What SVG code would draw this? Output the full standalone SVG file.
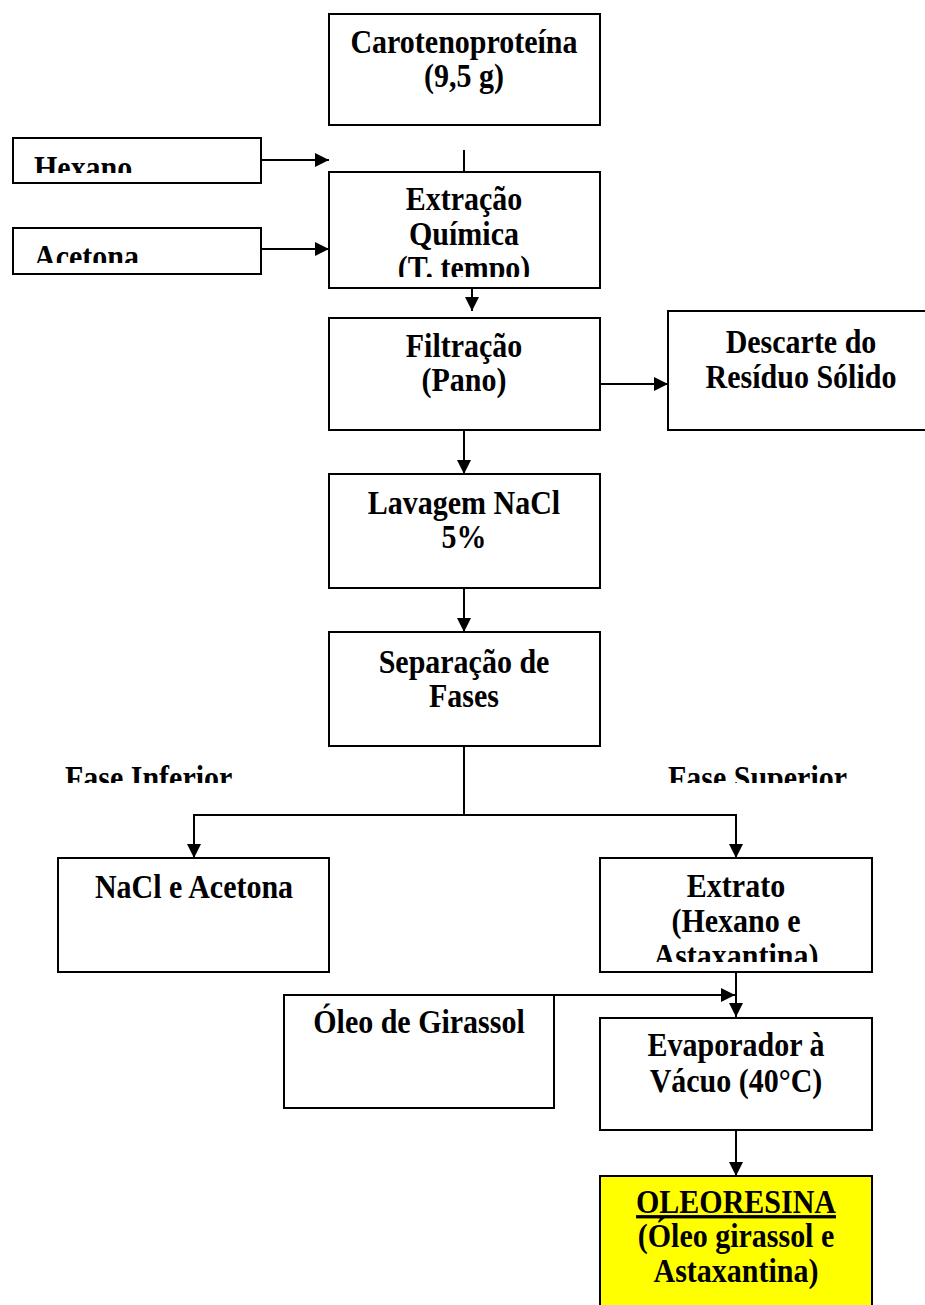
<svg xmlns="http://www.w3.org/2000/svg" width="925" height="1305" viewBox="0 0 925 1305">
<style>
.box{fill:#fff;stroke:#000;stroke-width:2}
.hl{fill:#ffff00;stroke:#000;stroke-width:2}
.t{font-family:"Liberation Serif","Times New Roman",serif;font-weight:bold;font-size:30px;fill:#000}
.c{text-anchor:middle}
.ln{fill:none;stroke:#000;stroke-width:2}
</style>
<defs>
<marker id="ah" markerUnits="userSpaceOnUse" markerWidth="14" markerHeight="14" viewBox="0 0 14 14" refX="14" refY="7" orient="auto">
<path d="M0,0 L14,7 L0,14 Z" fill="#000"/>
</marker>
<clipPath id="cHex" clipPathUnits="userSpaceOnUse"><rect x="14" y="139" width="246" height="34"/></clipPath>
<clipPath id="cAce" clipPathUnits="userSpaceOnUse"><rect x="14" y="229" width="246" height="34"/></clipPath>
<clipPath id="cExt" clipPathUnits="userSpaceOnUse"><rect x="330" y="173" width="269" height="104"/></clipPath>
<clipPath id="cFI" clipPathUnits="userSpaceOnUse"><rect x="40" y="755" width="260" height="28"/></clipPath>
<clipPath id="cFS" clipPathUnits="userSpaceOnUse"><rect x="640" y="755" width="260" height="28"/></clipPath>
<clipPath id="cExtr" clipPathUnits="userSpaceOnUse"><rect x="601" y="859" width="270" height="103"/></clipPath>
</defs>

<g id="connectors">
<line class="ln" x1="464" y1="150" x2="464" y2="172"/>
<line class="ln" x1="261" y1="160" x2="329" y2="160" marker-end="url(#ah)"/>
<line class="ln" x1="261" y1="249" x2="329" y2="249" marker-end="url(#ah)"/>
<line class="ln" x1="472" y1="288" x2="472" y2="311" marker-end="url(#ah)"/>
<line class="ln" x1="600" y1="384" x2="668" y2="384" marker-end="url(#ah)"/>
<line class="ln" x1="464" y1="430" x2="464" y2="474" marker-end="url(#ah)"/>
<line class="ln" x1="464" y1="588" x2="464" y2="632" marker-end="url(#ah)"/>
<polyline class="ln" points="464,746 464,815"/>
<polyline class="ln" points="194,858 194,815 736,815 736,858"/>
<line class="ln" x1="194" y1="830" x2="194" y2="858" marker-end="url(#ah)"/>
<line class="ln" x1="736" y1="830" x2="736" y2="858" marker-end="url(#ah)"/>
<line class="ln" x1="736" y1="972" x2="736" y2="1017" marker-end="url(#ah)"/>
<line class="ln" x1="554" y1="995" x2="735" y2="995" marker-end="url(#ah)"/>
<line class="ln" x1="736" y1="1130" x2="736" y2="1176" marker-end="url(#ah)"/>
</g>

<g id="carotenoproteina">
<rect class="box" x="329" y="14" width="271" height="111"/>
<text class="t c" transform="translate(464 53) scale(1 1.1)"><tspan x="0" y="0">Carotenoproteína</tspan><tspan x="0" y="31">(9,5 g)</tspan></text>
</g>

<g id="hexano">
<rect class="box" x="13" y="138" width="248" height="45"/>
<g clip-path="url(#cHex)"><text class="t" transform="translate(34 179) scale(1 1.1)">Hexano</text></g>
</g>

<g id="acetona">
<rect class="box" x="13" y="228" width="248" height="46"/>
<g clip-path="url(#cAce)"><text class="t" transform="translate(34 268) scale(1 1.1)">Acetona</text></g>
</g>

<g id="extracao">
<rect class="box" x="329" y="172" width="271" height="116"/>
<g clip-path="url(#cExt)"><text class="t c" transform="translate(464 210) scale(1 1.1)"><tspan x="0" y="0">Extração</tspan><tspan x="0" y="31.5">Química</tspan><tspan x="0" y="63">(T. tempo)</tspan></text></g>
</g>

<g id="filtracao">
<rect class="box" x="329" y="318" width="271" height="112"/>
<text class="t c" transform="translate(464 357) scale(1 1.1)"><tspan x="0" y="0">Filtração</tspan><tspan x="0" y="31">(Pano)</tspan></text>
</g>

<g id="descarte">
<rect class="box" x="668" y="311" width="265" height="119"/>
<text class="t c" transform="translate(801 353) scale(1 1.1)"><tspan x="0" y="0">Descarte do</tspan><tspan x="0" y="31.5">Resíduo Sólido</tspan></text>
</g>

<g id="lavagem">
<rect class="box" x="329" y="474" width="271" height="114"/>
<text class="t c" transform="translate(464 514) scale(1 1.1)"><tspan x="0" y="0">Lavagem NaCl</tspan><tspan x="0" y="31">5%</tspan></text>
</g>

<g id="separacao">
<rect class="box" x="329" y="632" width="271" height="114"/>
<text class="t c" transform="translate(464 673) scale(1 1.1)"><tspan x="0" y="0">Separação de</tspan><tspan x="0" y="31">Fases</tspan></text>
</g>

<g id="label-fase-inferior">
<g clip-path="url(#cFI)"><text class="t" transform="translate(65 789) scale(1 1.1)">Fase Inferior</text></g>
</g>
<g id="label-fase-superior">
<g clip-path="url(#cFS)"><text class="t" transform="translate(668 789) scale(1 1.1)">Fase Superior</text></g>
</g>

<g id="nacl-acetona">
<rect class="box" x="58" y="858" width="271" height="114"/>
<text class="t c" transform="translate(194 898) scale(1 1.1)">NaCl e Acetona</text>
</g>

<g id="extrato">
<rect class="box" x="600" y="858" width="272" height="114"/>
<g clip-path="url(#cExtr)"><text class="t c" transform="translate(736 897) scale(1 1.1)"><tspan x="0" y="0">Extrato</tspan><tspan x="0" y="32">(Hexano e</tspan><tspan x="0" y="64">Astaxantina)</tspan></text></g>
</g>

<g id="oleo-girassol">
<rect class="box" x="284" y="995" width="270" height="113"/>
<text class="t c" transform="translate(419 1033) scale(1 1.1)">Óleo de Girassol</text>
</g>

<g id="evaporador">
<rect class="box" x="600" y="1018" width="272" height="112"/>
<text class="t c" transform="translate(736 1056) scale(1 1.1)"><tspan x="0" y="0">Evaporador à</tspan><tspan x="0" y="33">Vácuo (40°C)</tspan></text>
</g>

<g id="oleoresina">
<rect class="hl" x="600" y="1176" width="272" height="140"/>
<text class="t c" transform="translate(736 1213) scale(1 1.1)"><tspan x="0" y="0" text-decoration="underline">OLEORESINA</tspan><tspan x="0" y="31">(Óleo girassol e</tspan><tspan x="0" y="62.5">Astaxantina)</tspan></text>
</g>
</svg>
